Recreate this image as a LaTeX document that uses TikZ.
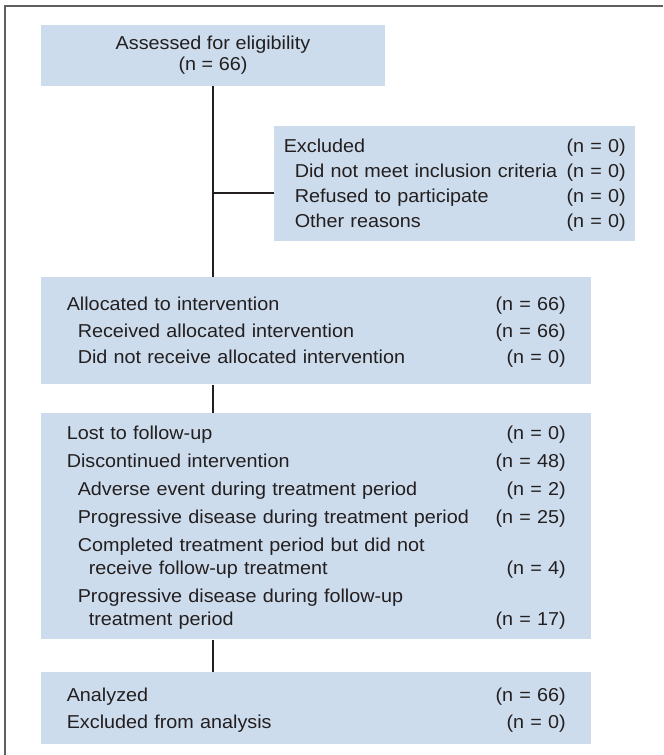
\documentclass[tikz,border=0pt]{standalone}
\usepackage{fontspec}
\setmainfont{Liberation Sans}[FakeStretch=1.06]
\usepackage{tikz}
\usetikzlibrary{matrix, positioning, calc}
\usepackage{xcolor}
\definecolor{boxblue}{RGB}{204,220,236}
\definecolor{inkgray}{RGB}{35,31,32}
\definecolor{framegray}{RGB}{95,95,95}
\newcommand{\ind}{\hspace*{8.25pt}}

\begin{document}
\begin{tikzpicture}[x=0.75pt, y=-0.75pt,
            every node/.style={text=inkgray, font=\fontsize{14}{15.75}\selectfont},
            cnt/.style={
                matrix of nodes,
                fill=boxblue,
                anchor=north west,
                inner xsep=19.125pt,
                inner ysep=10.125pt,
                row sep=0pt,
                column sep=0pt,
                nodes={inner sep=0pt, text height=14.85pt, text depth=5.15pt},
                column 1/.style={nodes={text width=314.25pt, align=left}},
                column 2/.style={nodes={text width=60pt, align=right}}
            },
            headbox/.style={fill=boxblue, minimum width=258pt, minimum height=45.75pt, align=center},
            link/.style={draw=inkgray, line width=1.5pt}]
            \useasboundingbox (0,0) rectangle (663,755);
            \draw[framegray, line width=1pt] (5,755) -- (5,6) -- (663,6);

            \node (elig) [headbox] at (213,55.5) {Assessed for eligibility\\(n = 66)};

            \matrix (excl) [cnt, inner xsep=7.125pt, inner ysep=5pt, row sep=-1.25pt,
                column 1/.style={nodes={text width=211.5pt, align=left}},
                column 2/.style={nodes={text width=45pt, align=right}}] at (274,126) {
                Excluded                                 & (n = 0) \\
                \ind Did not meet inclusion criteria     & (n = 0) \\
                \ind Refused to participate              & (n = 0) \\
                \ind Other reasons                       & (n = 0) \\
            };

            \matrix (alloc) [cnt] at (41,277) {
                Allocated to intervention                  & (n = 66) \\
                \ind Received allocated intervention       & (n = 66) \\
                \ind Did not receive allocated intervention & (n = 0) \\
            };

            \matrix (fup) [cnt, inner ysep=5pt, row sep=1pt] at (41,413) {
                Lost to follow-up                                  & (n = 0)  \\
                Discontinued intervention                          & (n = 48) \\
                \ind Adverse event during treatment period         & (n = 2)  \\
                \ind Progressive disease during treatment period   & (n = 25) \\
                \ind Completed treatment period but did not        &          \\[-3.75pt]
                \ind\ind receive follow-up treatment               & (n = 4)  \\
                \ind Progressive disease during follow-up          &          \\[-3.75pt]
                \ind\ind treatment period                          & (n = 17) \\
            };

            \matrix (anal) [cnt, inner ysep=7pt] at (41,672) {
                Analyzed                & (n = 66) \\
                Excluded from analysis  & (n = 0)  \\
            };

            \coordinate (split) at (213,193);
            \draw[link] (elig.south) -- (elig.south |- alloc.north);
            \draw[link] (split) -- (split -| excl.west);
            \draw[link] (elig.south |- alloc.south) -- (elig.south |- fup.north);
            \draw[link] (elig.south |- fup.south) -- (elig.south |- anal.north);
\end{tikzpicture}
\end{document}
